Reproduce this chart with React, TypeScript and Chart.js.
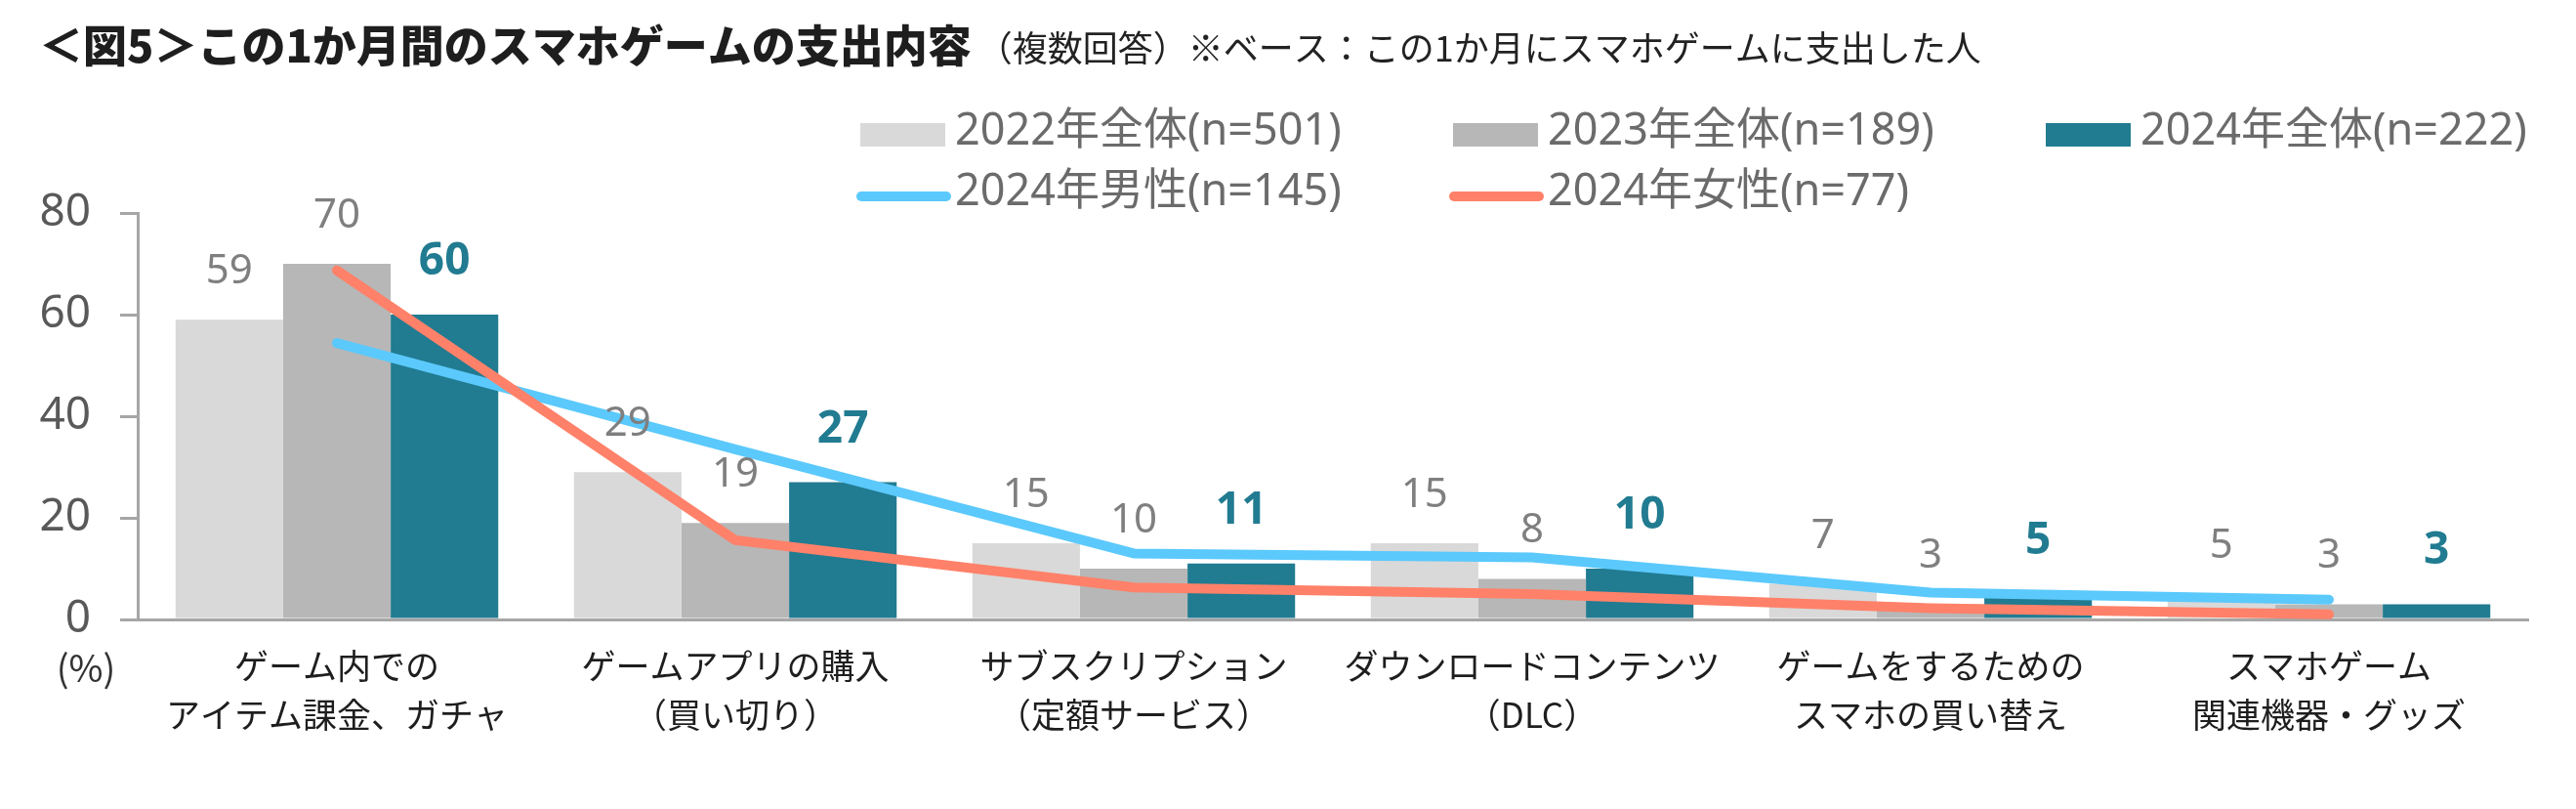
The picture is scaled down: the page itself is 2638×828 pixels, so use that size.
import React, { useEffect, useRef } from "react";
import { Chart, registerables } from "chart.js";

Chart.register(...registerables);

const categories: string[][] = [
  ["ゲーム内での", "アイテム課金、ガチャ"],
  ["ゲームアプリの購入", "（買い切り）"],
  ["サブスクリプション", "（定額サービス）"],
  ["ダウンロードコンテンツ", "（DLC）"],
  ["ゲームをするための", "スマホの買い替え"],
  ["スマホゲーム", "関連機器・グッズ"],
];

const total2022 = [59, 29, 15, 15, 7, 5];
const total2023 = [70, 19, 10, 8, 3, 3];
const total2024 = [60, 27, 11, 10, 5, 3];
const male2024 = [54.4, 33.5, 13.0, 12.2, 5.3, 3.9];
const female2024 = [68.7, 15.6, 6.3, 5.0, 2.2, 1.0];

const yTicks = [0, 20, 40, 60, 80];

const seriesNames = [
  "2022年全体(n=501)",
  "2023年全体(n=189)",
  "2024年全体(n=222)",
  "2024年男性(n=145)",
  "2024年女性(n=77)",
];

const TITLE = "＜図5＞この1か月間のスマホゲームの支出内容";
const SUBTITLE = "（複数回答）※ベース：この1か月にスマホゲームに支出した人";

const C_2022 = "#d9d9d9";
const C_2023 = "#b7b7b7";
const C_2024 = "#217b91";
const C_MALE = "#5bc9fc";
const C_FEMALE = "#ff8169";
const C_AXIS = "#a6a6a6";

const JP = '"Noto Sans CJK JP", "Noto Sans", sans-serif';
const LAT = '"Noto Sans", "Noto Sans CJK JP", sans-serif';

const decorPlugin = {
  id: "decor",
  afterDraw(chart: any) {
    const ctx = chart.ctx as CanvasRenderingContext2D;
    ctx.save();
    // Title
    ctx.textBaseline = "middle";
    ctx.textAlign = "left";
    ctx.fillStyle = "#1e1e1e";
    ctx.font = `900 45px ${JP}`;
    ctx.fillText(TITLE, 40, 47);
    const tw = ctx.measureText(TITLE).width;
    ctx.font = `36px ${JP}`;
    ctx.fillStyle = "#222222";
    ctx.fillText(SUBTITLE, 40 + tw + 6, 49);

    // Legend
    ctx.font = `45px ${LAT}`;
    const row1 = 138;
    const row2 = 201;
    const boxes = [
      { x: 881, c: C_2022, t: seriesNames[0] },
      { x: 1488, c: C_2023, t: seriesNames[1] },
      { x: 2095, c: C_2024, t: seriesNames[2] },
    ];
    boxes.forEach((b) => {
      ctx.fillStyle = b.c;
      ctx.fillRect(b.x, row1 - 12, 87, 24);
      ctx.fillStyle = "#6b6b6b";
      ctx.fillText(b.t, b.x + 97, row1 - 3);
    });
    const lines = [
      { x: 882, c: C_MALE, t: seriesNames[3] },
      { x: 1489, c: C_FEMALE, t: seriesNames[4] },
    ];
    lines.forEach((l) => {
      ctx.strokeStyle = l.c;
      ctx.lineWidth = 10;
      ctx.lineCap = "round";
      ctx.beginPath();
      ctx.moveTo(l.x, row2);
      ctx.lineTo(l.x + 87, row2);
      ctx.stroke();
      ctx.fillStyle = "#6b6b6b";
      ctx.fillText(l.t, l.x + 96, row2 - 4);
    });

    // (%) unit
    ctx.font = `38px ${JP}`;
    ctx.fillStyle = "#333333";
    ctx.textAlign = "center";
    ctx.fillText("(%)", 88, 684);
    ctx.restore();
  },
};

const labelPlugin = {
  id: "barLabels",
  afterDatasetsDraw(chart: any) {
    const ctx = chart.ctx as CanvasRenderingContext2D;
    ctx.save();
    ctx.textAlign = "center";
    ctx.textBaseline = "alphabetic";
    [0, 1, 2].forEach((di) => {
      const meta = chart.getDatasetMeta(di);
      const data = chart.data.datasets[di].data as number[];
      const bold = di === 2;
      ctx.font = bold ? `bold 46px ${LAT}` : `42px ${LAT}`;
      ctx.fillStyle = bold ? C_2024 : "#7f7f7f";
      meta.data.forEach((el: any, i: number) => {
        ctx.fillText(String(data[i]), el.x, el.y - (bold ? 41 : 37));
      });
    });
    ctx.restore();
  },
};

export default function App() {
  const ref = useRef<HTMLCanvasElement | null>(null);

  useEffect(() => {
    document.body.style.margin = "0";
    const canvas = ref.current;
    if (!canvas) return;
    const chart = new Chart(canvas, {
      type: "bar",
      data: {
        labels: categories,
        datasets: [
          {
            type: "bar",
            label: seriesNames[0],
            data: total2022,
            backgroundColor: C_2022,
            order: 2,
            categoryPercentage: 0.81,
            barPercentage: 1.0,
          },
          {
            type: "bar",
            label: seriesNames[1],
            data: total2023,
            backgroundColor: C_2023,
            order: 2,
            categoryPercentage: 0.81,
            barPercentage: 1.0,
          },
          {
            type: "bar",
            label: seriesNames[2],
            data: total2024,
            backgroundColor: C_2024,
            order: 2,
            categoryPercentage: 0.81,
            barPercentage: 1.0,
          },
          {
            type: "line",
            label: seriesNames[3],
            data: male2024,
            borderColor: C_MALE,
            backgroundColor: C_MALE,
            borderWidth: 10,
            pointRadius: 0,
            tension: 0,
            borderCapStyle: "round",
            borderJoinStyle: "round",
            order: 1,
          },
          {
            type: "line",
            label: seriesNames[4],
            data: female2024,
            borderColor: C_FEMALE,
            backgroundColor: C_FEMALE,
            borderWidth: 10,
            pointRadius: 0,
            tension: 0,
            borderCapStyle: "round",
            borderJoinStyle: "round",
            order: 0,
          },
        ],
      } as any,
      options: {
        responsive: false,
        animation: false,
        devicePixelRatio: 1,
        layout: { padding: { top: 218, right: 49, bottom: 0, left: 0 } },
        plugins: {
          legend: { display: false },
          title: { display: false },
          tooltip: { enabled: false },
        },
        scales: {
          x: {
            grid: { display: false, drawTicks: false },
            border: { display: true, color: C_AXIS, width: 3 },
            ticks: {
              color: "#1e1e1e",
              font: { family: JP, size: 35, lineHeight: 50 / 35 },
              padding: 23,
              maxRotation: 0,
              autoSkip: false,
            },
            afterFit(scale: any) {
              scale.height = 194;
            },
          },
          y: {
            min: 0,
            max: 80,
            afterBuildTicks(scale: any) {
              scale.ticks = yTicks.map((v) => ({ value: v }));
            },
            grid: {
              display: true,
              drawOnChartArea: false,
              drawTicks: true,
              tickLength: 18,
              color: C_AXIS,
              lineWidth: 3,
            },
            border: { display: true, color: C_AXIS, width: 3 },
            ticks: {
              color: "#595959",
              font: { family: LAT, size: 46 },
              padding: 30,
            },
            afterFit(scale: any) {
              scale.width = 141;
            },
          },
        },
      } as any,
      plugins: [labelPlugin, decorPlugin],
    });
    return () => chart.destroy();
  }, []);

  return (
    <canvas
      ref={ref}
      width={2638}
      height={828}
      style={{ display: "block", width: 2638, height: 828 }}
    />
  );
}
